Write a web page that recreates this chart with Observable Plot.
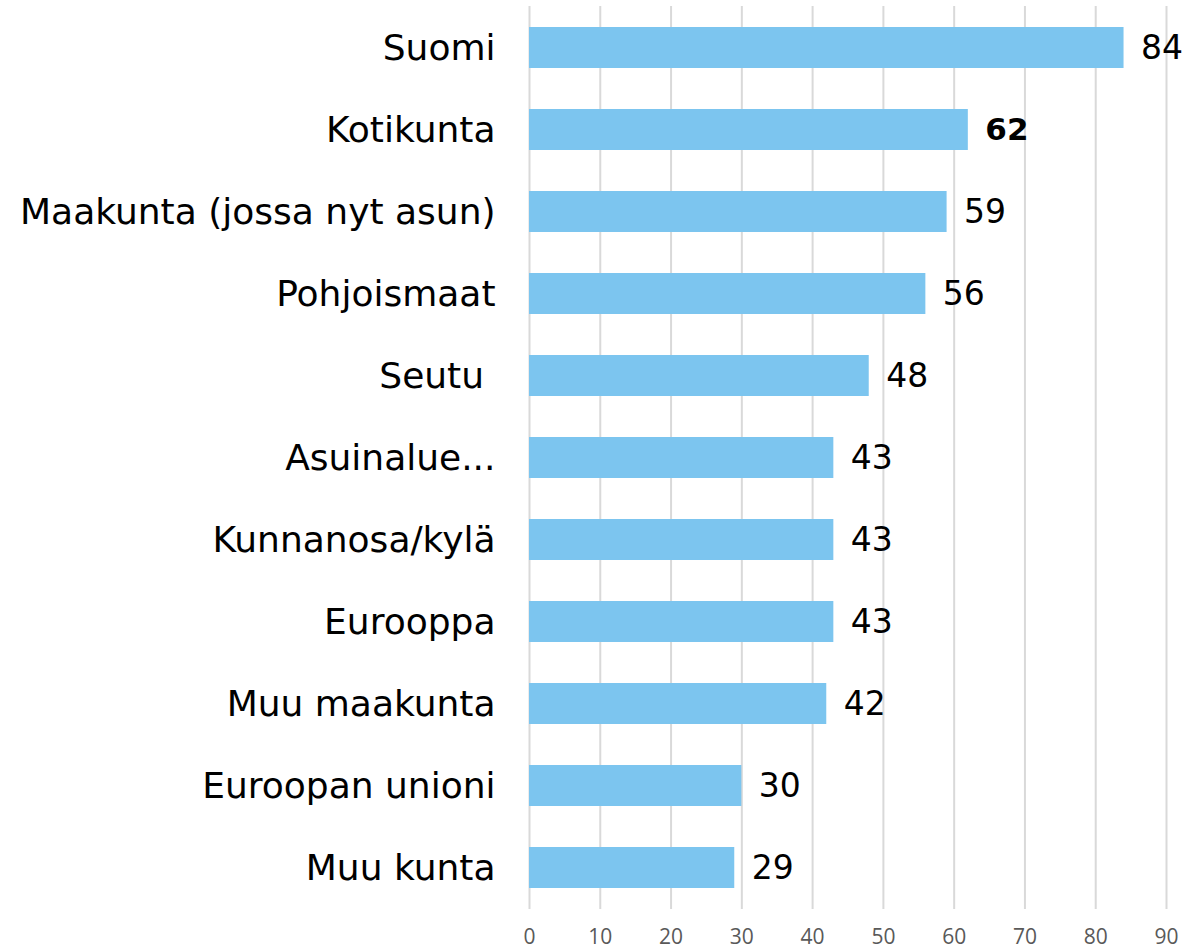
<!DOCTYPE html>
<html>
<head>
<meta charset="utf-8">
<script src="https://cdn.jsdelivr.net/npm/d3@7"></script>
<script src="https://cdn.jsdelivr.net/npm/@observablehq/plot@0.6"></script>
<style>
  html, body { margin: 0; padding: 0; background: #fff; }
  #chart { width: 1186px; height: 950px; }
</style>
</head>
<body>
<div id="chart"></div>
<script>
const categories = ["Suomi", "Kotikunta", "Maakunta (jossa nyt asun)", "Pohjoismaat", "Seutu\u00a0", "Asuinalue...", "Kunnanosa/kylä", "Eurooppa", "Muu maakunta", "Euroopan unioni", "Muu kunta"];
const values = [84, 62, 59, 56, 48, 43, 43, 43, 42, 30, 29];
const highlighted = "Kotikunta";
const xTicks = [0, 10, 20, 30, 40, 50, 60, 70, 80, 90];

const data = categories.map((c, i) => ({category: c, value: values[i]}));
const fontFamily = "'DejaVu Sans', sans-serif";

const chart = Plot.plot({
  width: 1186,
  height: 950,
  marginLeft: 529,
  marginRight: 20,
  marginTop: 6,
  marginBottom: 41,
  style: {fontFamily, color: "#000", background: "#fff"},
  x: {domain: [0, 90]},
  y: {domain: categories, paddingInner: 0.5, paddingOuter: 0.25},
  marks: [
    Plot.gridX(xTicks, {stroke: "#d9d9d9", strokeOpacity: 1, strokeWidth: 2}),
    Plot.axisX(xTicks, {tickSize: 0, tickPadding: 20, fontSize: 21, fill: "#595959", fontFamily: "'Open Sans', sans-serif", label: null}),
    Plot.axisY({tickSize: 0, tickPadding: 34, fontSize: 36, fill: "#000", label: null}),
    Plot.barX(data, {x: "value", y: "category", fill: "#7cc5ef"}),
    Plot.text(data.filter(d => d.category !== highlighted), {x: "value", y: "category", text: d => String(d.value), textAnchor: "start", dx: 17, fontSize: 33, fill: "#000"}),
    Plot.text(data.filter(d => d.category === highlighted), {x: "value", y: "category", text: d => String(d.value), textAnchor: "start", dx: 17, fontSize: 31, fontWeight: "bold", fill: "#000"})
  ]
});
document.getElementById("chart").appendChild(chart);
</script>
</body>
</html>
